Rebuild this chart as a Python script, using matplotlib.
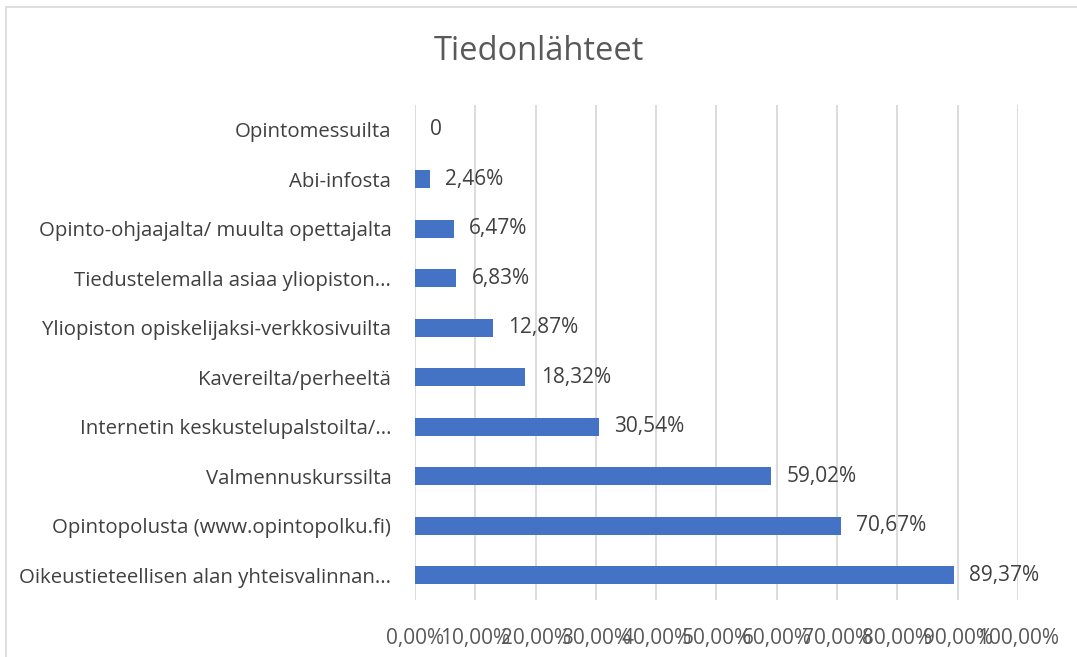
import matplotlib
matplotlib.use("Agg")
import matplotlib.pyplot as plt
from matplotlib.patches import Rectangle

categories = [
    "Oikeustieteellisen alan yhteisvalinnan...",
    "Opintopolusta (www.opintopolku.fi)",
    "Valmennuskurssilta",
    "Internetin keskustelupalstoilta/...",
    "Kavereilta/perheeltä",
    "Yliopiston opiskelijaksi-verkkosivuilta",
    "Tiedustelemalla asiaa yliopiston...",
    "Opinto-ohjaajalta/ muulta opettajalta",
    "Abi-infosta",
    "Opintomessuilta",
]
values = [89.37, 70.67, 59.02, 30.54, 18.32, 12.87, 6.83, 6.47, 2.46, 0.0]
x_ticks = [0, 10, 20, 30, 40, 50, 60, 70, 80, 90, 100]

plt.rcParams["font.family"] = ["Open Sans", "DejaVu Sans"]
TXT = "#404040"
AX = "#595959"
FS = 15

fig = plt.figure(figsize=(10.77, 6.57), dpi=100)
fig.patches.append(Rectangle((0.006, -0.01), 1.0, 0.999, transform=fig.transFigure,
                             fill=False, edgecolor="#d9d9d9", lw=1.2))
ax = fig.add_axes([0.3853, 0.0868, 0.5599, 0.7532])

y = range(len(categories))
ax.barh(y, values, height=0.36, color="#4472C4", zorder=3)
ax.set_xlim(0, 100)
ax.set_ylim(-0.5, len(categories) - 0.5)
ax.set_yticks(list(y))
ax.set_yticklabels(categories, fontsize=14.7, color=TXT)
ax.set_xticks(x_ticks)
# tick labels overlap in the original too
ax.set_xticklabels([f"{t:.2f}%".replace(".", ",") for t in x_ticks], fontsize=FS, color=AX)
ax.tick_params(length=0)
ax.tick_params(axis="y", pad=17)
ax.tick_params(axis="x", pad=20)
ax.grid(axis="x", color="#d9d9d9", lw=1.3, zorder=0)
for s in ax.spines.values():
    s.set_visible(False)

for yi, v in zip(y, values):
    lab = "0" if v == 0 else f"{v:.2f}%".replace(".", ",")
    ax.annotate(lab, (v, yi), xytext=(11, 0), textcoords="offset points",
                va="center", ha="left", fontsize=FS, color=TXT)

fig.text(0.5, 0.922, "Tiedonlähteet", ha="center", va="center", fontsize=23.5, color=AX)

fig.savefig("out.png", dpi=100)
